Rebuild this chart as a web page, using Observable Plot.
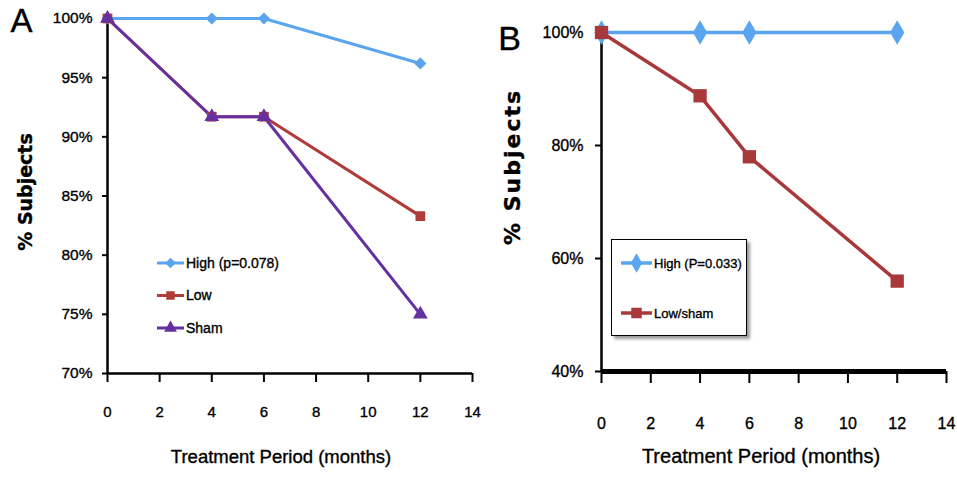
<!DOCTYPE html>
<html><head><meta charset="utf-8">
<script src="https://cdn.jsdelivr.net/npm/d3@7"></script>
<script src="https://cdn.jsdelivr.net/npm/@observablehq/plot@0.6"></script>
<style>
body{margin:0;background:#fff;}
#wrap{position:relative;width:957px;height:477px;display:flex;overflow:hidden;}
.panel{position:relative;}
.legend{position:absolute;}
svg text{stroke:#000;stroke-width:0.35px;}
</style></head><body><div id="wrap"><div id="pa" class="panel"></div><div id="pb" class="panel"></div></div>
<script>
// ---- data ----
const months = [0, 4, 6, 12];
const highA = [100, 100, 100, 96.2];
const lowA = [100, 91.7, 91.7, 83.3];
const shamA = [100, 91.7, 91.7, 75];
const highB = [100, 100, 100, 100];
const lowShamB = [100, 88.8, 78, 56];
const xTicks = [0, 2, 4, 6, 8, 10, 12, 14];
const yTicksA = [70, 75, 80, 85, 90, 95, 100];
const yTicksB = [40, 60, 80, 100];
const namesA = ["High (p=0.078)", "Low", "Sham"];
const colorsA = ["#5aa5ee", "#b03c3a", "#6530a0"];
const symbolsA = ["diamond2", "square", "triangle"];
const namesB = ["High (P=0.033)", "Low/sham"];
const colorsB = ["#5aa5ee", "#a8383a"];
const symbolsB = ["diamond", "square"];

const SANS = '"Liberation Sans",Arial,sans-serif';
const rows = (name, vals) => months.map((m, i) => ({month: m, value: vals[i], series: name}));
const dataA = [...rows(namesA[0], highA), ...rows(namesA[1], lowA), ...rows(namesA[2], shamA)];
const dataB = [...rows(namesB[0], highB), ...rows(namesB[1], lowShamB)];

// ---- panel A ----
const plotA = Plot.plot({
  width: 478, height: 477,
  marginLeft: 107, marginRight: 6, marginTop: 18, marginBottom: 104,
  x: {domain: [0, 14]},
  y: {domain: [70, 100]},
  color: {domain: namesA, range: colorsA},
  symbol: {domain: namesA, range: symbolsA},
  style: {fontFamily: SANS, fontSize: "15px", color: "#000", background: "transparent", overflow: "visible"},
  marks: [
    Plot.axisX({ticks: xTicks, tickSize: 9, tickPadding: 24, strokeWidth: 2, label: null, fontSize: 15}),
    Plot.axisY({ticks: yTicksA, tickSize: 5, tickPadding: 10, strokeWidth: 2, tickFormat: d => d + "%", label: null, fontSize: 15.5}),
    Plot.ruleX([0], {stroke: "#000", strokeWidth: 2.5}),
    Plot.ruleY([70], {stroke: "#000", strokeWidth: 2.5}),
    Plot.line(dataA, {x: "month", y: "value", z: "series", stroke: "series", strokeWidth: 3}),
    Plot.dot(dataA, {x: "month", y: "value", symbol: "series", fill: "series", r: 5.5, stroke: "none"}),
    Plot.text(["Treatment Period (months)"], {frameAnchor: "bottom", dy: 89, dx: -9, fontSize: 18.5, fontFamily: SANS}),
    Plot.text(["% Subjects"], {frameAnchor: "left", textAnchor: "middle", lineAnchor: "middle", dx: -82, dy: -4, rotate: -90, fontSize: 19, fontWeight: "bold", fontFamily: "DejaVu Sans"}),
    Plot.text(["A"], {frameAnchor: "top-left", textAnchor: "middle", lineAnchor: "middle", dx: -86, dy: 3, fontSize: 33, fontFamily: SANS})
  ]
});
document.getElementById("pa").appendChild(plotA);

// ---- panel B ----
const plotB = Plot.plot({
  width: 479, height: 477,
  marginLeft: 123, marginRight: 11, marginTop: 32, marginBottom: 106,
  x: {domain: [0, 14]},
  y: {domain: [40, 100]},
  color: {domain: namesB, range: colorsB},
  symbol: {domain: namesB, range: symbolsB},
  style: {fontFamily: SANS, fontSize: "16px", color: "#000", background: "transparent", overflow: "visible"},
  marks: [
    Plot.axisX({ticks: xTicks, tickSize: 12, tickPadding: 34, strokeWidth: 2, label: null, fontSize: 16}),
    Plot.axisY({ticks: yTicksB, tickSize: 6, tickPadding: 12, strokeWidth: 2, tickFormat: d => d + "%", label: null, fontSize: 16}),
    Plot.ruleX([0], {stroke: "#000", strokeWidth: 2.5}),
    Plot.ruleY([40], {stroke: "#000", strokeWidth: 5}),
    Plot.line(dataB, {x: "month", y: "value", z: "series", stroke: "series", strokeWidth: 3.5}),
    Plot.dot(dataB, {x: "month", y: "value", symbol: "series", fill: "series", r: 7.5, stroke: "none"}),
    Plot.text(["Treatment Period (months)"], {frameAnchor: "bottom", dy: 91, dx: -13, fontSize: 20, fontFamily: SANS}),
    Plot.text(["% Subjects"], {frameAnchor: "left", textAnchor: "middle", lineAnchor: "middle", dx: -89, dy: -35, rotate: -90, fontSize: 22, fontWeight: "bold", fontFamily: "DejaVu Sans"}),
    Plot.text(["B"], {frameAnchor: "top-left", textAnchor: "middle", lineAnchor: "middle", dx: -92, dy: 7, fontSize: 34, fontFamily: SANS})
  ]
});
document.getElementById("pb").appendChild(plotB);
// letter spacing for B's y title
d3.select(plotB).selectAll("text").filter(function() { return this.textContent === "% Subjects"; }).style("letter-spacing", "2px");

// ---- legends (HTML/SVG overlays) ----
function legend(container, names, colors, symbols, opts) {
  const div = d3.select(container).append("div").attr("class", "legend")
    .style("left", opts.left + "px").style("top", opts.top + "px");
  if (opts.box) div.style("border", "1.5px solid #000").style("box-shadow", "3px 3px 3px #999").style("background", "#fff");
  const svg = div.append("svg").attr("width", opts.w).attr("height", opts.h).style("display", "block");
  const symMap = {diamond: d3.symbolDiamond, diamond2: d3.symbolDiamond2, square: d3.symbolSquare, triangle: d3.symbolTriangle};
  names.forEach((n, i) => {
    const g = svg.append("g").attr("transform", `translate(0,${opts.y0 + i * opts.step})`);
    g.append("line").attr("x1", opts.x1).attr("x2", opts.x2).attr("stroke", colors[i]).attr("stroke-width", opts.sw);
    g.append("path").attr("transform", `translate(${(opts.x1 + opts.x2) / 2},0)`)
      .attr("d", d3.symbol(symMap[symbols[i]], opts.symSize)()).attr("fill", colors[i]);
    g.append("text").attr("x", opts.x2 + 2).attr("dy", "0.35em").text(n)
      .style("font-family", SANS).style("font-size", opts.fs + "px").attr("fill", "#000");
  });
}
legend("#pa", namesA, colorsA, symbolsA, {left: 150, top: 248, w: 150, h: 95, y0: 15, step: 32.5, x1: 7, x2: 34, sw: 3, symSize: 72, fs: 14});
legend("#pb", namesB, colorsB, symbolsB, {left: 133, top: 239, w: 134, h: 95, box: true, y0: 23, step: 50, x1: 9, x2: 40, sw: 3.5, symSize: 110, fs: 13});
</script>
</body></html>
